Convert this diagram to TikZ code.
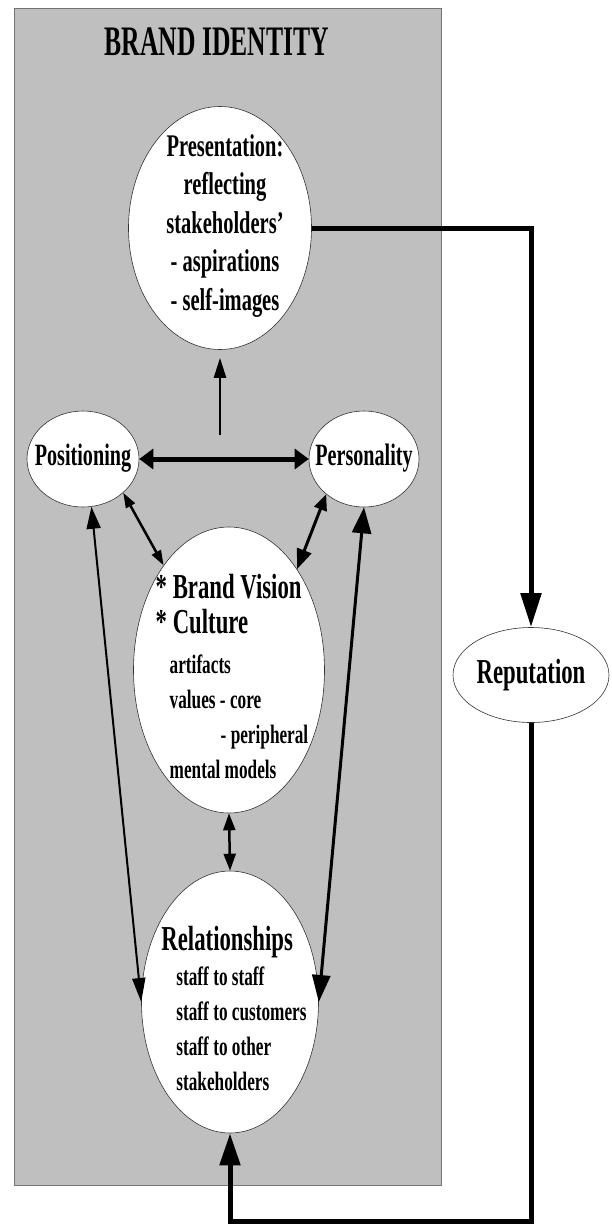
\documentclass[tikz,border=0pt]{standalone}
\usepackage{fontspec}
\usetikzlibrary{shapes.geometric,arrows.meta}
\newfontfamily\figfont{Liberation Serif}[FakeStretch=0.65]
\newfontfamily\headfont{Liberation Serif}[FakeStretch=0.61]
\newcommand\bigline{\fontsize{35}{35}\selectfont}
\newcommand\subline{\fontsize{26.5}{35}\selectfont}
\begin{document}
\begin{tikzpicture}[x=1pt,y=-1pt,
    bubble/.style={ellipse,draw=black!80,line width=0.6pt,fill=white,inner sep=0pt},
    lbl/.style={inner sep=0pt,font=\figfont\bfseries},
    big/.style={lbl,font=\figfont\bfseries\fontsize{35}{35}\selectfont},
    mid/.style={lbl,font=\figfont\bfseries\fontsize{31.5}{38.5}\selectfont},
    sub/.style={lbl,font=\figfont\bfseries\fontsize{26.5}{35}\selectfont}]
  \useasboundingbox (0,0) rectangle (611,1227);
  \node[draw=black!55,fill=black!25,line width=0.8pt,inner sep=0pt,anchor=north west,
        minimum width=427pt,minimum height=1177pt] (panel) at (14,8) {};
  \node[lbl,font=\headfont\bfseries\fontsize{42}{45}\selectfont] (title) at (217,42) {BRAND IDENTITY};
  % ellipses
  \node[bubble,minimum width=183pt,minimum height=243pt] (present) at (220,228) {};
  \node[bubble,minimum width=112pt,minimum height=96pt] (posit) at (83,459) {};
  \node[bubble,minimum width=110pt,minimum height=96pt] (person) at (364,459) {};
  \node[bubble,minimum width=191pt,minimum height=286pt] (vision) at (229,670) {};
  \node[bubble,minimum width=177pt,minimum height=262pt] (relat) at (230,1002) {};
  \node[bubble,minimum width=156pt,minimum height=95pt] (repu) at (531,675) {};
  % texts
  \node[mid,align=center] (presenttext) at (225,226)
    {Presentation:\\reflecting\\stakeholders’\\- aspirations\\- self-images};
  \node[lbl,font=\figfont\bfseries\fontsize{31}{35}\selectfont] (posittext) at (83,458) {Positioning};
  \node[lbl,font=\figfont\bfseries\fontsize{31}{35}\selectfont] (persontext) at (364,458) {Personality};
  \node[big] (reputext) at (531,675) {Reputation};
  \node[sub,align=left] (visiontext) at (232,676)
    {\bigline * Brand Vision\\
     \bigline * Culture\\[5pt]
     \subline\hspace*{14pt}artifacts\\
     \subline\hspace*{14pt}values - core\\
     \subline\hspace*{65pt}- peripheral\\
     \subline\hspace*{14pt}mental models};
  \node[sub,align=left] (relattext) at (234,1008)
    {\bigline Relationships\\
     \subline\hspace*{15pt}staff to staff\\
     \subline\hspace*{15pt}staff to customers\\
     \subline\hspace*{15pt}staff to other\\
     \subline\hspace*{15pt}stakeholders};
  % connectors
  \coordinate (stem) at (220,435);
  \draw[line width=2.3pt,-{Triangle[length=20pt,width=12pt]},shorten >=8pt] (stem) -- (present.south);
  \draw[line width=5pt,{Triangle[length=14pt,width=20pt]}-{Triangle[length=14pt,width=20pt]}] (posit.east) -- (person.west);
  \draw[line width=2.5pt,{Triangle[length=15pt,width=10pt]}-{Triangle[length=15pt,width=10pt]}] (posit.-40) -- (vision.122);
  \draw[line width=3pt,{Triangle[length=16pt,width=13pt]}-{Triangle[length=20pt,width=15pt]}] (person.-137) -- (vision.56);
  \draw[line width=2pt,{Triangle[length=22pt,width=14pt]}-{Triangle[length=24pt,width=13pt]}] (posit.-80) -- (relat.west);
  \draw[line width=3pt,{Triangle[length=26pt,width=19pt]}-{Triangle[length=27pt,width=18pt]}] (person.south) -- (relat.east);
  \draw[line width=2.5pt,{Triangle[length=17pt,width=12pt]}-{Triangle[length=17pt,width=12pt]}] (vision.south) -- (relat.north);
  \draw[line width=5pt,-{Triangle[length=34pt,width=20pt]}] (present.east) -| (repu.north);
  \coordinate (loop) at (230,1221);
  \draw[line width=5pt,-{Triangle[length=32pt,width=20pt]}] (repu.south) |- (loop) -- (relat.south);
\end{tikzpicture}
\end{document}
